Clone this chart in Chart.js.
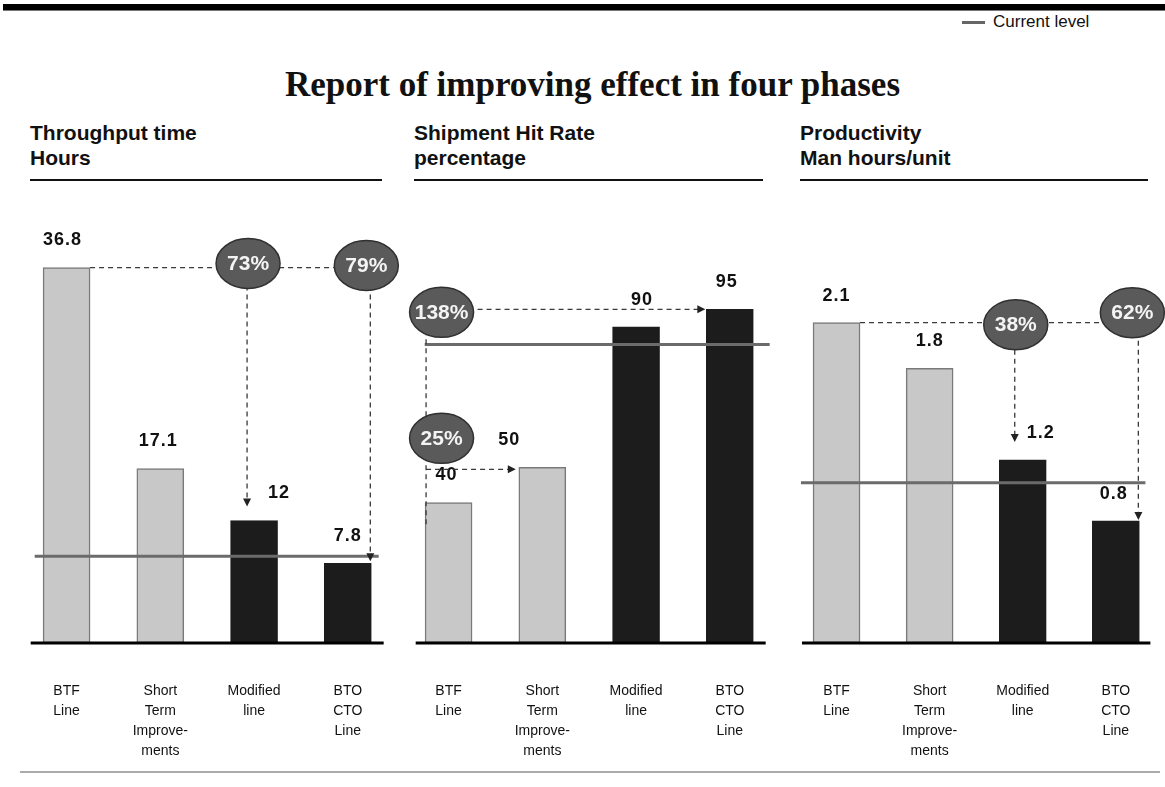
<!DOCTYPE html>
<html>
<head>
<meta charset="utf-8">
<script src="https://cdn.jsdelivr.net/npm/chart.js"></script>
<style>
  body { margin: 0; width: 1165px; height: 787px; background: #fff; position: relative; overflow: hidden;
         font-family: "Liberation Sans", Arial, Helvetica, sans-serif; color: #111; }
  .topbar { position: absolute; left: 3px; right: 0; top: 4px; height: 6px; background: #000; border-bottom: 1px solid #777; }
  .legend { position: absolute; left: 962px; top: 12px; font-size: 17px; line-height: 19px; white-space: nowrap; }
  .legend .swatch { display: inline-block; width: 23px; height: 3px; background: #666; vertical-align: middle; margin-right: 8px; }
  h1 { position: absolute; top: 65px; left: 10px; width: 1165px; margin: 0; text-align: center; line-height: 40px;
       font-family: "Liberation Serif", "Times New Roman", serif; font-size: 35px; font-weight: bold; }
  .head { position: absolute; top: 120px; font-weight: bold; font-size: 21px; line-height: 25px;
          padding-bottom: 9px; border-bottom: 2px solid #111; }
  .panel { position: absolute; top: 190px; }
  .bottomline { position: absolute; left: 20px; width: 1140px; top: 771px; height: 2px; background: #aaa; z-index: 2; }
</style>
</head>
<body>
<div class="topbar"></div>
<div class="legend"><span class="swatch"></span>Current level</div>
<h1>Report of improving effect in four phases</h1>

<div class="head" style="left:30px; width:352px;">Throughput time<br>Hours</div>
<div class="head" style="left:414px; width:349px;">Shipment Hit Rate<br>percentage</div>
<div class="head" style="left:800px; width:348px;">Productivity<br>Man hours/unit</div>

<canvas id="c1" class="panel" width="384" height="609" style="left:16px;"></canvas>
<canvas id="c2" class="panel" width="384" height="609" style="left:398px;"></canvas>
<canvas id="c3" class="panel" width="382" height="609" style="left:786px;"></canvas>
<div class="bottomline"></div>

<script>
// categories shared by the three panels
const categories = [["BTF", "Line"], ["Short", "Term", "Improve-", "ments"], ["Modified", "line"], ["BTO", "CTO", "Line"]];

// Throughput time, hours
const throughputHours = [36.8, 17.1, 12, 7.8];
const throughputCurrent = 8.5;
const throughputBadges = ["73%", "79%"];

// Shipment hit rate, percentage
const hitRatePct = [40, 50, 90, 95];
const hitRateCurrent = 85;
const hitRateBadges = ["138%", "25%"];

// Productivity, man hours/unit
const productivityMh = [2.1, 1.8, 1.2, 0.8];
const productivityCurrent = 1.05;
const productivityBadges = ["38%", "62%"];

const FONT = '"Liberation Sans", Arial, Helvetica, sans-serif';
const barColors = ["#c8c8c8", "#c8c8c8", "#1c1c1c", "#1c1c1c"];
const barBorders = ["#7a7a7a", "#7a7a7a", "#1c1c1c", "#1c1c1c"];

function dashed(ctx, x1, y1, x2, y2) {
	ctx.save();
	ctx.setLineDash([5, 4]);
	ctx.strokeStyle = "#3a3a3a";
	ctx.lineWidth = 1.3;
	ctx.beginPath();
	ctx.moveTo(x1, y1);
	ctx.lineTo(x2, y2);
	ctx.stroke();
	ctx.restore();
}

function arrowHead(ctx, x, y, dir) {
	ctx.save();
	ctx.fillStyle = "#222";
	ctx.beginPath();
	if (dir === "down") {
		ctx.moveTo(x, y);
		ctx.lineTo(x - 4, y - 8);
		ctx.lineTo(x + 4, y - 8);
	} else {
		ctx.moveTo(x, y);
		ctx.lineTo(x - 8, y - 4);
		ctx.lineTo(x - 8, y + 4);
	}
	ctx.closePath();
	ctx.fill();
	ctx.restore();
}

function badge(ctx, x, y, text) {
	ctx.save();
	ctx.beginPath();
	ctx.ellipse(x, y, 32, 25, 0, 0, Math.PI * 2);
	ctx.fillStyle = "#5a5a5a";
	ctx.fill();
	ctx.lineWidth = 1.5;
	ctx.strokeStyle = "#303030";
	ctx.stroke();
	ctx.fillStyle = "#f4f4f4";
	ctx.font = "bold 21px " + FONT;
	ctx.textAlign = "center";
	ctx.textBaseline = "middle";
	ctx.fillText(text, x, y + 1);
	ctx.restore();
}

// panels 1 and 3: one reference line from the first bar, two reductions
function reductionNotes(ctx, bars, texts, o) {
	const b0 = bars[0], b2 = bars[2], b3 = bars[3];
	const top = b0.y;
	const xA = b2.x + o.aDx;
	const xB = b3.x + b3.width / 2 - 1;
	dashed(ctx, b0.x + b0.width / 2, top, xB, top);
	dashed(ctx, xA, top, xA, b2.y - o.aGap - 6);
	arrowHead(ctx, xA, b2.y - o.aGap, "down");
	dashed(ctx, xB, top, xB, b3.y - o.bGap - 6);
	arrowHead(ctx, xB, b3.y - o.bGap, "down");
	badge(ctx, xA + 1, top + o.aDy, texts[0]);
	badge(ctx, xB + o.bDx, top + o.bDy, texts[1]);
}

// panel 2: increases measured from the first bar
function increaseNotes(ctx, bars, texts) {
	const b0 = bars[0], b1 = bars[1], b3 = bars[3];
	const xL = b0.x - b0.width / 2 + 1;
	const bx = b0.x - 7;
	const yBig = b3.y + 3;
	const ySmall = b1.y - 29;
	dashed(ctx, xL, yBig, xL, b0.y + 25);
	dashed(ctx, bx, b3.y, b3.x - b3.width / 2 - 6, b3.y);
	arrowHead(ctx, b3.x - b3.width / 2 - 1, b3.y, "right");
	dashed(ctx, xL, b1.y + 2, b1.x - b1.width / 2 - 8, b1.y + 2);
	arrowHead(ctx, b1.x - b1.width / 2 - 3, b1.y + 2, "right");
	badge(ctx, bx, yBig, texts[0]);
	badge(ctx, bx, ySmall, texts[1]);
}

const overlay = {
	id: "overlay",
	afterDatasetsDraw(chart, args, opts) {
		const ctx = chart.ctx;
		const bars = chart.getDatasetMeta(0).data;
		const values = chart.data.datasets[0].data;
		const area = chart.chartArea;
		const yScale = chart.scales.y;
		ctx.save();

		// baseline
		const by = yScale.getPixelForValue(0);
		ctx.strokeStyle = "#000";
		ctx.lineWidth = 3;
		ctx.beginPath();
		ctx.moveTo(area.left + opts.baseInset[0], by);
		ctx.lineTo(area.right - opts.baseInset[1], by);
		ctx.stroke();

		// current level
		const cy = yScale.getPixelForValue(opts.current);
		ctx.strokeStyle = "#6b6b6b";
		ctx.lineWidth = 3;
		ctx.beginPath();
		ctx.moveTo(area.left + opts.lineInset[0], cy);
		ctx.lineTo(area.right - opts.lineInset[1], cy);
		ctx.stroke();

		// value labels
		ctx.fillStyle = "#111";
		ctx.font = "bold 18px " + FONT;
		ctx.letterSpacing = "1px";
		ctx.textAlign = "center";
		ctx.textBaseline = "middle";
		bars.forEach((b, i) => {
			ctx.fillText(String(values[i]), b.x + opts.labelDx[i], b.y - 27);
		});
		ctx.letterSpacing = "0px";

		opts.notes(ctx, bars);
		ctx.restore();
	},
};

function makeChart(id, values, max, current, extra) {
	return new Chart(document.getElementById(id), {
		type: "bar",
		data: {
			labels: categories,
			datasets: [{
				data: values,
				backgroundColor: barColors,
				borderColor: barBorders,
				borderWidth: 1.5,
				borderSkipped: false,
				barThickness: 47,
			}],
		},
		options: {
			responsive: false,
			animation: false,
			layout: { padding: 0 },
			plugins: {
				legend: { display: false },
				tooltip: { enabled: false },
				overlay: Object.assign({ current: current }, extra),
			},
			scales: {
				x: {
					grid: { display: false, drawTicks: false },
					border: { display: false },
					ticks: {
						autoSkip: false,
						maxRotation: 0,
						color: "#111",
						padding: 38,
						font: { family: FONT, size: 14, lineHeight: 1.43 },
					},
				},
				y: { display: false, min: 0, max: max },
			},
		},
		plugins: [overlay],
	});
}

makeChart("c1", throughputHours, 44.4, throughputCurrent, {
	baseInset: [11, 11],
	lineInset: [15, 16],
	labelDx: [-4, -2, 25, 0],
	notes: (ctx, bars) => reductionNotes(ctx, bars, throughputBadges, { aDx: -7, aGap: 14, aDy: -4, bGap: 2, bDx: -4, bDy: -2 }),
});

makeChart("c2", hitRatePct, 129, hitRateCurrent, {
	baseInset: [14, 11],
	lineInset: [23, 7],
	labelDx: [-2, -33, 6, -3],
	notes: (ctx, bars) => increaseNotes(ctx, bars, hitRateBadges),
});

makeChart("c3", productivityMh, 2.97, productivityCurrent, {
	baseInset: [12, 12],
	lineInset: [11, 17],
	labelDx: [0, 0, 18, -2],
	notes: (ctx, bars) => reductionNotes(ctx, bars, productivityBadges, { aDx: -8, aGap: 18, aDy: 2, bGap: 1, bDx: -6, bDy: -10 }),
});
</script>
</body>
</html>
